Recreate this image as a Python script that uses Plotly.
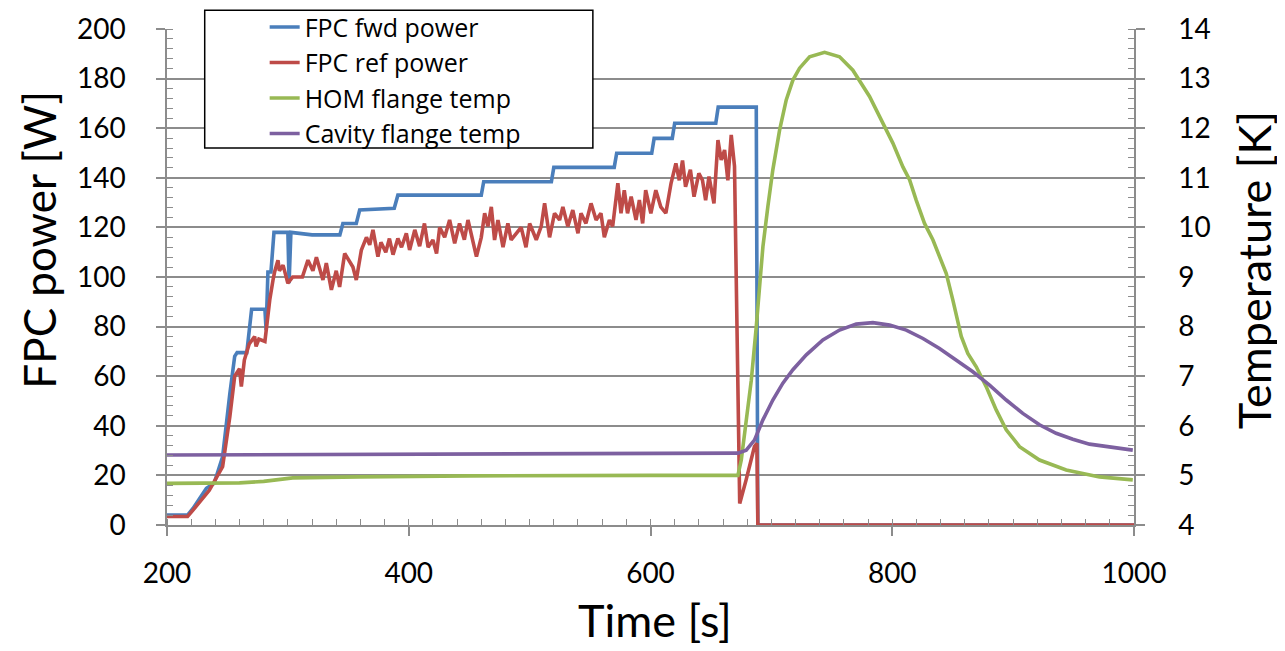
import plotly.graph_objects as go

# ---------------- data ----------------
fwd_t = [200, 217, 221.5, 232.6, 239, 246, 252, 256, 258, 266, 270, 281, 282, 283.5, 286, 288.5,
         300, 301, 302.5, 320, 343, 345.5, 356.6, 359.4, 388, 391, 460, 462, 518, 520, 570, 572,
         601, 603, 618, 620, 654, 656, 687.5, 688.8, 1000]
fwd_w = [4, 4, 6.7, 14.8, 16.8, 27.5, 53, 68, 69.5, 69.5, 87, 87, 78.6, 102, 102, 118,
         118, 97.5, 118, 117, 117, 121.6, 121.6, 127, 127.7, 133, 133, 138.4, 138.4, 144.2, 144.2, 149.9,
         149.9, 155.9, 155.9, 162, 162, 168.5, 168.5, 0, 0]

ref_t = [200, 217, 221.5, 235, 246, 252, 256, 260, 261.5, 264, 268, 272.5, 273.7, 276, 281,
         282, 285, 287.7, 289, 291.8, 293, 296, 300, 304, 312, 316.6, 320.7, 323.6, 329, 331.8, 336, 340,
         342.8, 347, 353.8, 356.6, 360.8, 365, 367.7, 370.4, 374.5, 377, 381, 384, 387, 391, 394, 398,
         400.7, 405, 409, 413, 416, 420, 423, 425.6, 429.7, 433.8, 438, 442, 446, 449, 453, 456, 460,
         462.8, 465.5, 468.3, 471, 473.8, 478, 482, 484.7, 488.8, 493, 497, 500, 505.5, 509.6, 512.4,
         516.5, 520.6, 524.8, 527.5, 531.6, 535.7, 540, 542.5, 546.6, 550.8, 555, 559, 561.8, 566, 568.7,
         573, 575.6, 578.3, 581, 584, 588, 590.8, 593.5, 596, 600.3, 604.4, 608.5, 612.7, 617, 621,
         623.8, 626.5, 629, 633, 636, 640, 643, 645.6, 648.4, 652.5, 655.8, 658.5, 661.3, 664, 666.8,
         669.5, 673.8, 679, 686, 688, 688.8, 1000]
ref_w = [3.4, 3.4, 6, 14, 23.5, 43.7, 60, 63, 55.8, 66.5, 73, 76, 72, 75, 74,
         79, 90.7, 98.8, 102, 106.8, 102.5, 104.8, 97.5, 100, 100, 106.8, 102.5, 108, 98.8, 105.6, 94.8, 102.5,
         96, 109.5, 104, 98.8, 110.9, 116, 113, 119, 108.2, 114, 110, 115.5, 109, 115.5, 112, 117.6,
         110.9, 119, 112.4, 121.6, 112, 114.9, 109.5, 120, 116, 123, 113.6, 121.6, 115, 123, 115, 108.2, 116,
         125.7, 120.4, 128.3, 114.9, 123, 112, 121.6, 115, 117.6, 120, 112, 121.6, 115, 120.4, 129.7,
         116, 125.7, 123, 128.3, 120.4, 127, 117.6, 125.7, 121.6, 129.7, 123, 125.7, 116, 123, 120.4,
         137.8, 125.7, 135, 125.7, 132.4, 123, 131, 121.6, 135, 125.7, 135, 128.3, 125.7, 137.8, 145.8,
         139, 147, 136.4, 143.2, 132.4, 141.8, 139, 131, 140.5, 129.7, 155.2, 147.2, 151.2, 139, 157.3,
         144.6, 8.7, 18, 31.6, 33, 0, 0]

hom_t = [200, 260, 280, 304, 359, 450, 600, 672.3, 675.1, 679.2, 683.4, 687.5, 690.2, 693, 697.1,
         701.2, 706.8, 712.3, 717.8, 723.3, 731.6, 744, 756.4, 767.4, 781.2, 789.5, 800.5, 808.8, 814.3,
         819.8, 826.7, 833.6, 839.1, 844.7, 850.1, 854.3, 857.1, 862.5, 869.5, 877.7, 886, 894.3, 905.3,
         921.8, 943.9, 971.5, 999]
hom_k = [4.84, 4.85, 4.88, 4.95, 4.97, 4.99, 5.0, 5.0, 5.31, 6.12, 6.92, 8.0, 8.8, 9.61, 10.42,
         11.16, 11.96, 12.57, 12.97, 13.21, 13.44, 13.53, 13.44, 13.17, 12.64, 12.23, 11.7, 11.22, 10.96,
         10.55, 10.08, 9.75, 9.41, 9.07, 8.54, 8.13, 7.8, 7.46, 7.19, 6.79, 6.32, 5.92, 5.58,
         5.31, 5.11, 4.97, 4.91]

cav_t = [200, 300, 450, 600, 672.3, 679.2, 686, 693, 701.2, 709.5, 717.8, 728.9, 742.6, 756.4, 770.2,
         784, 797.8, 811.6, 825.4, 839.1, 852.9, 866.7, 880.5, 894.3, 908, 921.8, 935.6, 949.4, 963.2,
         977, 999]
cav_k = [5.41, 5.42, 5.44, 5.45, 5.45, 5.51, 5.71, 6.12, 6.52, 6.86, 7.13, 7.43, 7.73, 7.93, 8.05,
         8.08, 8.03, 7.93, 7.76, 7.56, 7.33, 7.09, 6.82, 6.52, 6.25, 6.02, 5.85, 5.73, 5.63,
         5.58, 5.51]

series_names = ["FPC fwd power", "FPC ref power", "HOM flange temp", "Cavity flange temp"]
series_colors = ["#4A7EBB", "#BE4B48", "#98B954", "#7D60A0"]

x_ticks = [200, 400, 600, 800, 1000]
left_ticks = list(range(0, 201, 20))
right_ticks = list(range(4, 15))

x_title = "Time [s]"
left_title = "FPC power [W]"
right_title = "Temperature [K]"

# ---------------- figure ----------------
FONT = "Lato"
GRID = "#8c8c8c"
LW = 3.6

fig = go.Figure()
fig.add_trace(go.Scatter(x=fwd_t, y=fwd_w, name=series_names[0], mode="lines",
                         line=dict(color=series_colors[0], width=LW)))
fig.add_trace(go.Scatter(x=ref_t, y=ref_w, name=series_names[1], mode="lines",
                         line=dict(color=series_colors[1], width=LW)))
fig.add_trace(go.Scatter(x=hom_t, y=hom_k, name=series_names[2], mode="lines", yaxis="y2",
                         line=dict(color=series_colors[2], width=LW)))
fig.add_trace(go.Scatter(x=cav_t, y=cav_k, name=series_names[3], mode="lines", yaxis="y2",
                         line=dict(color=series_colors[3], width=LW)))

axis_common = dict(showline=True, linecolor=GRID, linewidth=1.5, ticks="outside", ticklen=9,
                   tickcolor=GRID, tickwidth=1.5, tickfont=dict(family=FONT, size=28, color="black"),
                   zeroline=False)

title_font = dict(family=FONT, color="black")

fig.update_layout(
    width=1285, height=651,
    margin=dict(l=159, r=159, t=21, b=134, autoexpand=False),
    paper_bgcolor="white", plot_bgcolor="white",
    showlegend=True,
    xaxis=dict(range=[200, 1000], tickvals=x_ticks, showgrid=False, ticklabelstandoff=14,
               minor=dict(dtick=20, ticks="inside", ticklen=6, tickcolor=GRID, tickwidth=1.2, showgrid=False),
               **axis_common),
    yaxis=dict(range=[0, 200], tickvals=left_ticks, showgrid=True, gridcolor=GRID, gridwidth=1.5,
               ticklabelstandoff=25,
               minor=dict(dtick=4, ticks="inside", ticklen=6, tickcolor=GRID, tickwidth=1.2, showgrid=False),
               **axis_common),
    yaxis2=dict(range=[4, 14], tickvals=right_ticks, overlaying="y", side="right", showgrid=False,
                ticklabelstandoff=28,
                minor=dict(dtick=0.2, ticks="inside", ticklen=6, tickcolor=GRID, tickwidth=1.2, showgrid=False),
                **axis_common),
    legend=dict(x=0.101, y=1.05, xanchor="left", yanchor="top", bgcolor="rgba(0,0,0,0)",
                borderwidth=0, font=dict(family="Open Sans", size=25, color="black"),
                tracegroupgap=0, itemwidth=30),
    shapes=[dict(type="rect", xref="paper", yref="paper", x0=0.039, x1=0.4404, y0=0.760, y1=1.038,
                 fillcolor="white", line=dict(color="black", width=1.5), layer="above")],
    annotations=[
        dict(text=left_title, xref="paper", yref="paper", x=-0.1327, y=0.5746, textangle=-90,
             showarrow=False, xanchor="center", yanchor="middle", font=dict(size=44, **title_font)),
        dict(text=right_title, xref="paper", yref="paper", x=1.1242, y=0.514, textangle=-90,
             showarrow=False, xanchor="center", yanchor="middle", font=dict(size=45, **title_font)),
        dict(text=x_title, xref="paper", yref="paper", x=0.5045, y=-0.1915,
             showarrow=False, xanchor="center", yanchor="middle", font=dict(size=45, **title_font)),
    ],
)

fig.write_html("out.html")
